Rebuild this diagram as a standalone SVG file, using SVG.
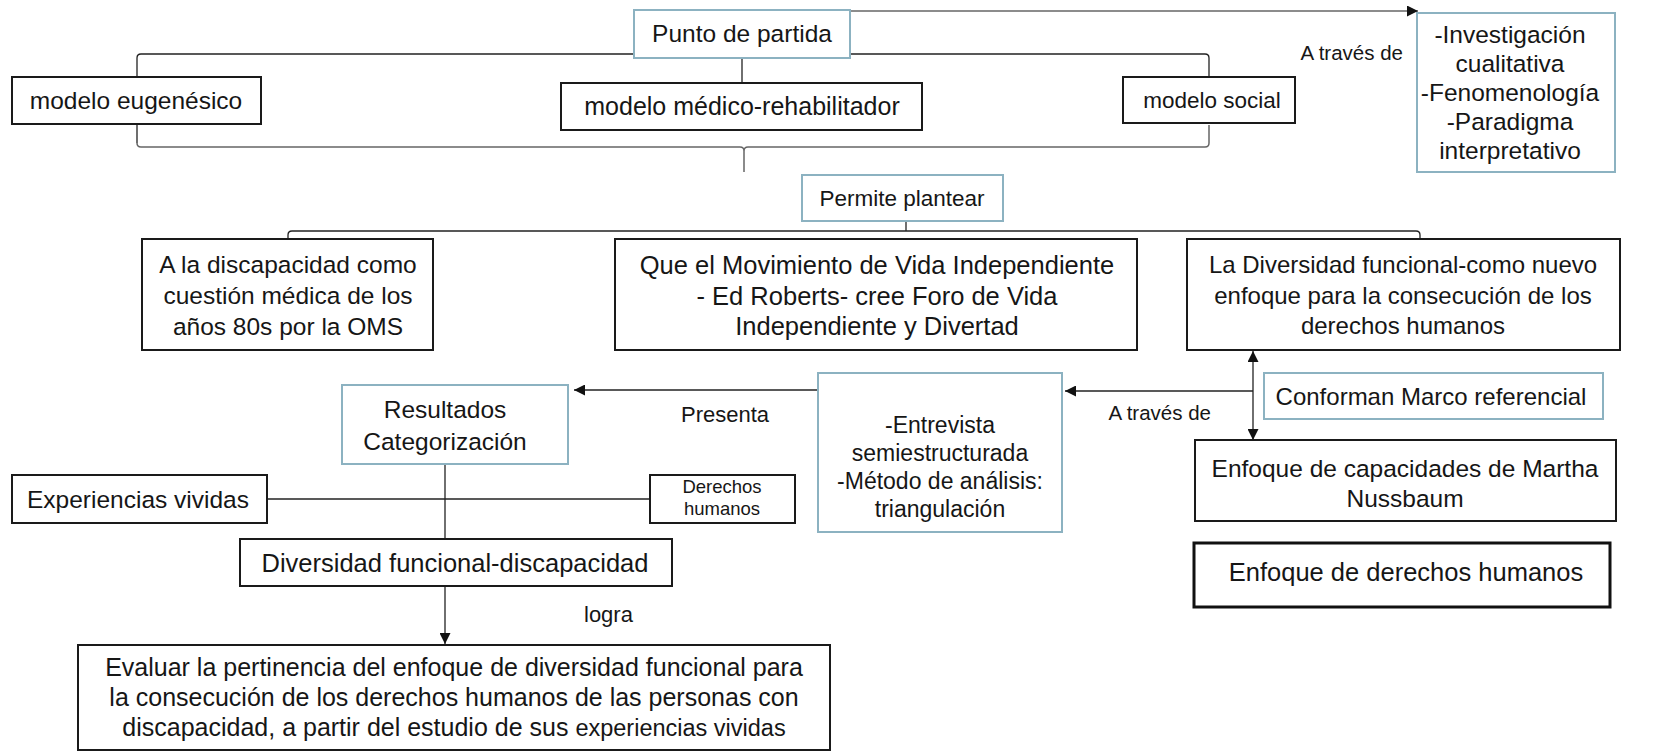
<svg xmlns="http://www.w3.org/2000/svg" width="1672" height="752" viewBox="0 0 1672 752">
<defs>
<marker id="arr" viewBox="0 0 10 10" refX="10" refY="5" markerWidth="11" markerHeight="11" markerUnits="userSpaceOnUse" orient="auto-start-reverse">
<path d="M0,0 L10,5 L0,10 z" fill="#111"/>
</marker>
<style>
text{font-family:"Liberation Sans",Arial,sans-serif;fill:#161616;}
.t{font-size:24.5px;text-anchor:middle;}
.lbl{font-size:21px;}
.bk{fill:#fff;stroke:#1a1a1a;stroke-width:2;}
.bl{fill:#fff;stroke:#8cb2c1;stroke-width:2;}
.bk3{fill:#fff;stroke:#111;stroke-width:3;}
.c{fill:none;stroke:#222;stroke-width:1.3;}
.cg{fill:none;stroke:#666;stroke-width:1.5;}
</style>
</defs>
<rect width="1672" height="752" fill="#fff"/>

<g id="connectors">
<path class="cg" d="M850 11 H1418" marker-end="url(#arr)"/>
<path class="c" d="M742 58 V83"/>
<path class="c" d="M137 143 V58 Q137 54 141 54 H1205 Q1209 54 1209 58 V80"/>
<path class="cg" d="M1209 125 V143 Q1209 147 1205 147 H748 Q744 147 744 151 V172 M744 151 Q744 147 740 147 H141 Q137 147 137 143"/>
<path class="c" d="M906 221 V231"/>
<path class="c" d="M288 239 V235 Q288 231 292 231 H1416 Q1420 231 1420 235 V239"/>
<path class="c" d="M818 390 H574" marker-end="url(#arr)"/>
<path class="c" d="M1253 391 H1065" marker-end="url(#arr)"/>
<path class="c" d="M1253 351 V440" marker-start="url(#arr)" marker-end="url(#arr)"/>
<path class="c" d="M445 464 V539"/>
<path class="c" d="M267 499 H650"/>
<path class="c" d="M445 586 V644" marker-end="url(#arr)"/>
</g>

<g id="punto-de-partida">
<rect class="bl" x="634" y="10" width="216" height="48"/>
<text class="t" x="742" y="42">Punto de partida</text>
</g>
<g id="investigacion">
<rect class="bl" x="1417" y="13" width="198" height="159"/>
<text class="t" x="1510" y="43">-Investigación</text>
<text class="t" x="1510" y="72">cualitativa</text>
<text class="t" x="1510" y="101">-Fenomenología</text>
<text class="t" x="1510" y="130">-Paradigma</text>
<text class="t" x="1510" y="159">interpretativo</text>
</g>
<g id="label-a-traves-1">
<text class="lbl" x="1403" y="60" style="text-anchor:end;font-size:20.5px">A través de</text>
</g>
<g id="modelo-eugenesico">
<rect class="bk" x="12" y="77" width="249" height="47"/>
<text class="t" x="136" y="109">modelo eugenésico</text>
</g>
<g id="modelo-medico">
<rect class="bk" x="561" y="83" width="361" height="47"/>
<text class="t" x="742" y="115" style="font-size:25px">modelo médico-rehabilitador</text>
</g>
<g id="modelo-social">
<rect class="bk" x="1123" y="77" width="172" height="46"/>
<text class="t" x="1212" y="108" style="font-size:22.5px">modelo social</text>
</g>
<g id="permite-plantear">
<rect class="bl" x="802" y="175" width="201" height="46"/>
<text class="t" x="902" y="206" style="font-size:22.5px">Permite plantear</text>
</g>
<g id="discapacidad-oms">
<rect class="bk" x="142" y="239" width="291" height="111"/>
<text class="t" x="288" y="273">A la discapacidad como</text>
<text class="t" x="288" y="304">cuestión médica de los</text>
<text class="t" x="288" y="335">años 80s por la OMS</text>
</g>
<g id="movimiento-vida">
<rect class="bk" x="615" y="239" width="522" height="111"/>
<text class="t" x="877" y="274" style="font-size:25.5px">Que el Movimiento de Vida Independiente</text>
<text class="t" x="877" y="305" style="font-size:25.5px">- Ed Roberts- cree Foro de Vida</text>
<text class="t" x="877" y="335" style="font-size:25.5px">Independiente y Divertad</text>
</g>
<g id="diversidad-funcional-enfoque">
<rect class="bk" x="1187" y="239" width="433" height="111"/>
<text class="t" x="1403" y="273" style="font-size:24px">La Diversidad funcional-como nuevo</text>
<text class="t" x="1403" y="304" style="font-size:24px">enfoque para la consecución de los</text>
<text class="t" x="1403" y="334" style="font-size:24px">derechos humanos</text>
</g>
<g id="resultados">
<rect class="bl" x="342" y="385" width="226" height="79"/>
<text class="t" x="445" y="418">Resultados</text>
<text class="t" x="445" y="450">Categorización</text>
</g>
<g id="label-presenta">
<text class="lbl" x="681" y="422" style="font-size:22px">Presenta</text>
</g>
<g id="entrevista">
<rect class="bl" x="818" y="373" width="244" height="159"/>
<text class="t" x="940" y="433" style="font-size:23px">-Entrevista</text>
<text class="t" x="940" y="461" style="font-size:23px">semiestructurada</text>
<text class="t" x="940" y="489" style="font-size:23px">-Método de análisis:</text>
<text class="t" x="940" y="517" style="font-size:23px">triangulación</text>
</g>
<g id="label-a-traves-2">
<text class="lbl" x="1211" y="420" style="text-anchor:end;font-size:20.5px">A través de</text>
</g>
<g id="conforman-marco">
<rect class="bl" x="1264" y="373" width="339" height="46"/>
<text class="t" x="1431" y="405" style="font-size:24px">Conforman Marco referencial</text>
</g>
<g id="enfoque-capacidades">
<rect class="bk" x="1195" y="440" width="421" height="81"/>
<text class="t" x="1405" y="477">Enfoque de capacidades de Martha</text>
<text class="t" x="1405" y="507">Nussbaum</text>
</g>
<g id="experiencias-vividas">
<rect class="bk" x="12" y="475" width="255" height="48"/>
<text class="t" x="138" y="508">Experiencias vividas</text>
</g>
<g id="derechos-humanos">
<rect class="bk" x="650" y="475" width="145" height="48"/>
<text class="t" x="722" y="493" style="font-size:18.5px">Derechos</text>
<text class="t" x="722" y="515" style="font-size:18.5px">humanos</text>
</g>
<g id="diversidad-discapacidad">
<rect class="bk" x="240" y="539" width="432" height="47"/>
<text class="t" x="455" y="572" style="font-size:25.5px">Diversidad funcional-discapacidad</text>
</g>
<g id="enfoque-derechos">
<rect class="bk3" x="1194" y="543" width="416" height="64"/>
<text class="t" x="1406" y="581" style="font-size:25.5px">Enfoque de derechos humanos</text>
</g>
<g id="label-logra">
<text class="lbl" x="584" y="622" style="font-size:22px">logra</text>
</g>
<g id="evaluar">
<rect class="bk" x="78" y="645" width="752" height="105"/>
<text class="t" x="454" y="676" style="font-size:25px">Evaluar la pertinencia del enfoque de diversidad funcional para</text>
<text class="t" x="454" y="706" style="font-size:25px">la consecución de los derechos humanos de las personas con</text>
<text class="t" x="454" y="736" style="font-size:25px">discapacidad, a partir del estudio de sus <tspan style="font-size:23.5px">experiencias vividas</tspan></text>
</g>
</svg>
